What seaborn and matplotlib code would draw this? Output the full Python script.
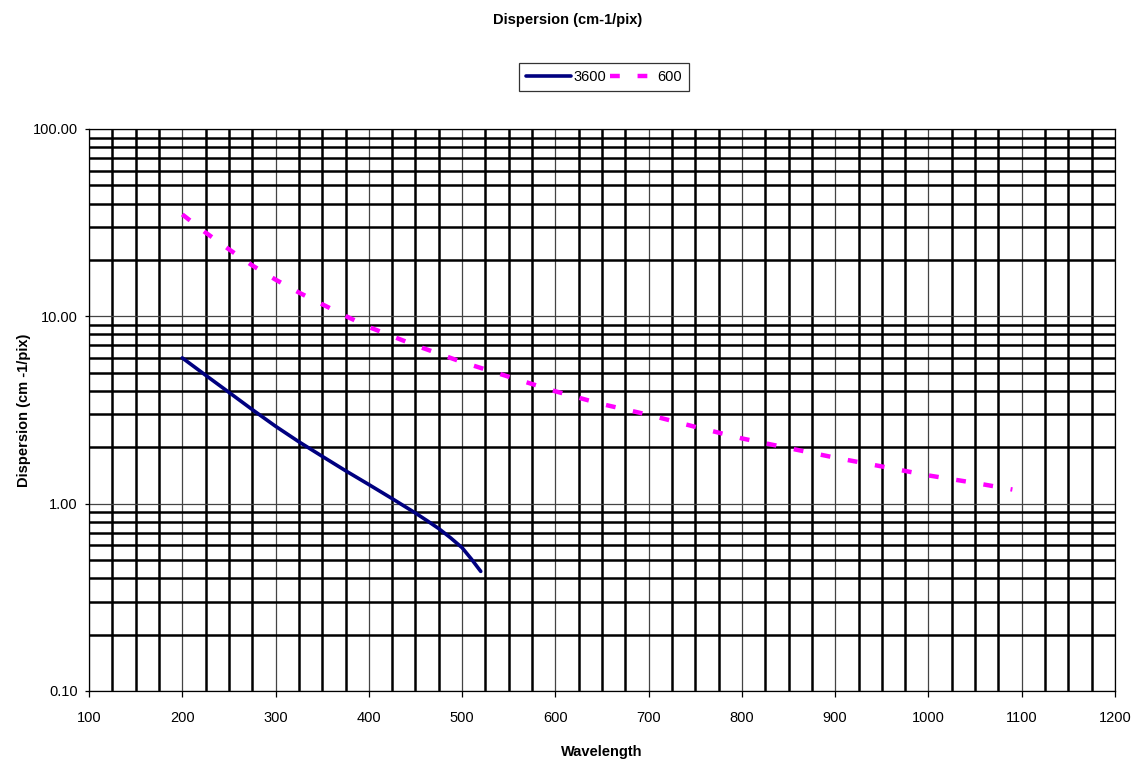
import matplotlib
matplotlib.use("Agg")
import matplotlib.pyplot as plt
import matplotlib.ticker as mticker
from matplotlib.lines import Line2D
import seaborn as sns
import pandas as pd

# ---- data ----
wl_3600 = [200, 225, 250, 275, 300, 325, 350, 375, 400, 425, 450, 462.5, 475, 487.5, 500, 510, 520]
disp_3600 = [6.0, 4.85, 3.93, 3.18, 2.59, 2.14, 1.79, 1.50, 1.265, 1.064, 0.891, 0.811, 0.736,
             0.658, 0.582, 0.506, 0.435]

wl_600 = [200, 225, 250, 275, 300, 325, 350, 375, 400, 450, 500, 550, 600, 650, 700, 750,
          800, 850, 900, 950, 1000, 1050, 1090]
disp_600 = [35.0, 28.0, 22.8, 18.7, 15.7, 13.4, 11.6, 10.05, 8.77, 7.0, 5.7, 4.76, 3.98,
            3.40, 2.98, 2.57, 2.23, 1.98, 1.76, 1.58, 1.415, 1.29, 1.19]

series_names = ["3600", "600"]
title_text = "Dispersion (cm-1/pix)"
xlabel_text = "Wavelength"
ylabel_text = "Dispersion (cm -1/pix)"

sns.set_theme(style="white")
plt.rcParams["font.family"] = ["Liberation Sans", "DejaVu Sans"]
plt.rcParams["text.color"] = "black"
plt.rcParams["axes.labelcolor"] = "black"
plt.rcParams["xtick.color"] = "black"
plt.rcParams["ytick.color"] = "black"

fig = plt.figure(figsize=(11.33, 7.6), dpi=100)
ax = fig.add_axes([89 / 1133, 1 - 691 / 760, (1115 - 89) / 1133, (691 - 129) / 760])

df1 = pd.DataFrame({"x": wl_3600, "y": disp_3600})
df2 = pd.DataFrame({"x": wl_600, "y": disp_600})

sns.lineplot(data=df1, x="x", y="y", ax=ax, color="#000080", lw=2.6, zorder=5)
sns.lineplot(data=df2, x="x", y="y", ax=ax, color="#FF00FF", lw=3.2, zorder=5)
ax.lines[-1].set_dashes([2.2, 4.0])
ax.lines[-1].set_dash_capstyle("butt")

ax.set_yscale("log")
ax.set_xlim(100, 1200)
ax.set_ylim(0.1, 100)

ax.xaxis.set_major_locator(mticker.MultipleLocator(100))
ax.xaxis.set_minor_locator(mticker.MultipleLocator(25))
ax.yaxis.set_major_locator(mticker.LogLocator(base=10))
ax.yaxis.set_minor_locator(mticker.LogLocator(base=10, subs=range(2, 10)))
ax.yaxis.set_major_formatter(mticker.FuncFormatter(lambda v, p: f"{v:.2f}"))
ax.yaxis.set_minor_formatter(mticker.NullFormatter())

ax.grid(which="major", color="#444444", lw=0.9)
ax.grid(which="minor", color="black", lw=1.8)
ax.set_axisbelow(True)

for s in ax.spines.values():
    s.set_color("black")
    s.set_linewidth(0.9)

ax.tick_params(axis="x", which="major", direction="out", length=4, width=0.9,
               color="black", labelsize=10.5, pad=10.5, labelcolor="black")
ax.tick_params(axis="y", which="major", direction="out", length=3, width=0.9,
               color="black", labelsize=10.5, pad=5, labelcolor="black")
ax.tick_params(axis="x", which="minor", length=0)
ax.tick_params(axis="y", which="minor", direction="out", length=3, width=0.9, color="black")
ax.tick_params(left=True, bottom=True)

ax.set_xlabel(xlabel_text, fontsize=10.5, fontweight="bold", labelpad=14, color="black")
ax.set_ylabel(ylabel_text, fontsize=10.5, fontweight="bold", labelpad=1.5, color="black")
fig.text(568 / 1133, 1 - 20 / 760, title_text, fontsize=10.5, fontweight="bold",
         ha="center", va="center", color="black")

handles = [Line2D([], [], color="#000080", lw=2.6),
           Line2D([], [], color="#FF00FF", lw=3.2, dashes=[2.2, 4.0], dash_capstyle="butt")]
leg = fig.legend(handles, series_names, loc="center", bbox_to_anchor=(604 / 1133, 1 - 77 / 760),
                 ncol=2, frameon=True, fancybox=False, fontsize=10.5, handlelength=3.1,
                 handletextpad=0.15, columnspacing=0.3, borderpad=0.45, borderaxespad=0)
leg.get_frame().set_edgecolor("black")
leg.get_frame().set_linewidth(0.9)
for t in leg.get_texts():
    t.set_color("black")

fig.savefig("out.png", dpi=100)
